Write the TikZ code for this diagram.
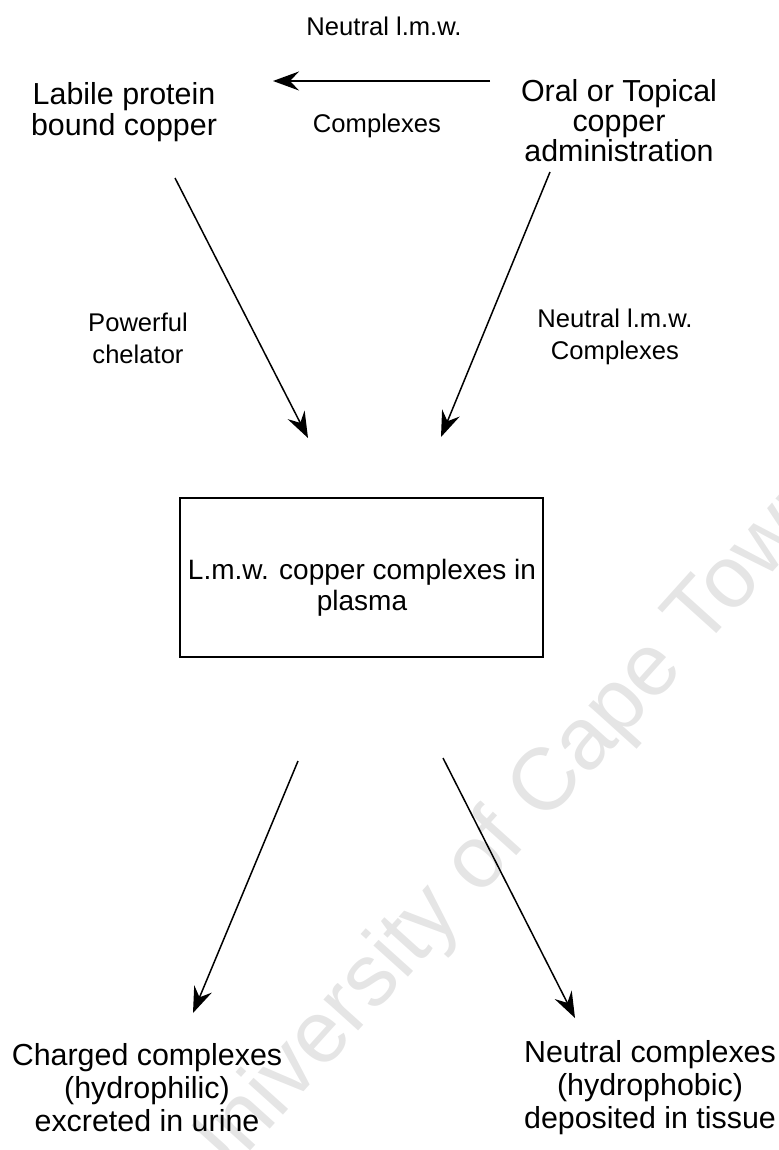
\documentclass[tikz,border=0pt]{standalone}
\usepackage{fontspec}
\setmainfont{Liberation Sans}
\usetikzlibrary{arrows.meta}
\begin{document}
\begin{tikzpicture}[x=0.5pt,y=-0.5pt,
  lbl/.style={align=center,inner sep=0pt,font=\fontsize{15.2}{15.5}\selectfont},
  lblb/.style={align=center,inner sep=0pt,font=\fontsize{15.2}{16.5}\selectfont},
  sml/.style={align=center,inner sep=0pt,font=\fontsize{12.8}{16}\selectfont},
  boxnode/.style={draw,line width=0.7pt,minimum width=181.5pt,minimum height=79.5pt,inner sep=0pt},
  arr/.style={line width=0.75pt,-{Stealth[length=13pt,width=9.5pt,inset=4.5pt]}},
  wmark/.style={text=black!10,inner sep=0pt,font=\fontsize{44}{44}\selectfont}]
\useasboundingbox (0,0) rectangle (779,1150);
% watermark
\node[wmark,rotate=48] (wm) at (505,835) {University of Cape Town};
% nodes
\node[lbl] (labile) at (124,112) {Labile protein\\bound copper};
\node[lbl,font=\fontsize{15.2}{15}\selectfont] (oral) at (619,121) {Oral or Topical\\copper\\administration};
\node[sml,anchor=base] (toplbl) at (384,36) {Neutral l.m.w.};
\node[sml,anchor=base] (complbl) at (377,133) {Complexes};
\node[sml] (powlbl) at (138,338) {Powerful\\chelator};
\node[sml] (neulbl) at (615,337) {Neutral l.m.w.\\Complexes};
\node[boxnode] (plasma) at (361.5,577.5) {};
\node[lbl,font=\fontsize{14}{15.5}\selectfont] (plasmatxt) at (362,588) {L.m.w. copper complexes in\\plasma};
\node[lblb] (charged) at (147,1088) {Charged complexes\\(hydrophilic)\\excreted in urine};
\node[lblb] (neutral) at (650,1088) {Neutral complexes\\(hydrophobic)\\deposited in tissue};
% connector ends
\coordinate (h1) at (490,81);
\coordinate (h2) at (273,81);
\coordinate (l1) at (175,178);
\coordinate (l2) at (308,438);
\coordinate (r1) at (550,172);
\coordinate (r2) at (441,437);
\coordinate (dl1) at (298,761);
\coordinate (dl2) at (193,1013);
\coordinate (dr1) at (443,758);
\coordinate (dr2) at (575,1018);
% connectors
\draw[arr] (h1) -- (h2);
\draw[arr] (l1) -- (l2);
\draw[arr] (r1) -- (r2);
\draw[arr] (dl1) -- (dl2);
\draw[arr] (dr1) -- (dr2);
\end{tikzpicture}
\end{document}
